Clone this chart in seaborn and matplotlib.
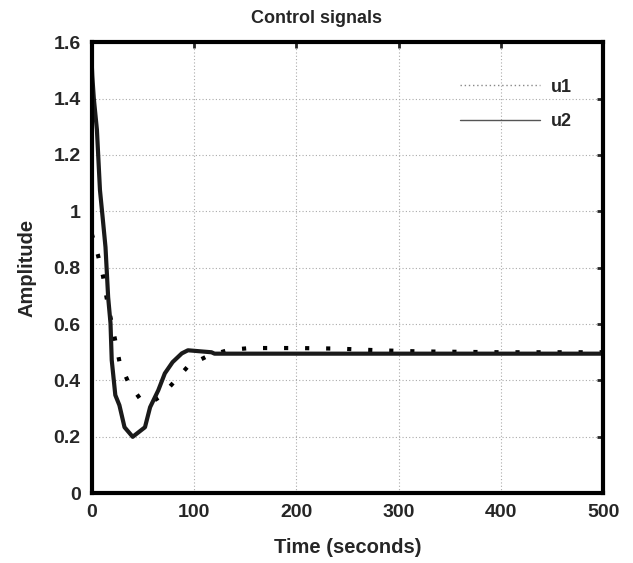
import pandas as pd
import matplotlib
matplotlib.use('Agg')
import matplotlib.pyplot as plt
import seaborn as sns
from matplotlib.lines import Line2D
from matplotlib.ticker import FuncFormatter

# control signal u1 (dotted)
t_u1 = [0, 6, 11, 14.4, 18.5, 23, 27, 35.5, 47, 58, 68, 80.5, 95, 113, 133.5,
        155, 176, 200, 240, 280, 320, 400, 500]
u1 = [0.92, 0.845, 0.77, 0.695, 0.62, 0.54, 0.468, 0.395, 0.336, 0.322, 0.345,
      0.395, 0.454, 0.486, 0.508, 0.515, 0.515, 0.515, 0.513, 0.507, 0.503,
      0.50, 0.50]

# control signal u2 (solid)
t_u2 = [0, 0.5, 2, 5, 8, 10.7, 13.4, 16, 18.3, 19.5, 23, 27, 32, 40, 52, 57,
        65, 71.4, 79, 88, 94, 117, 120, 500]
u2 = [1.52, 1.48, 1.40, 1.29, 1.075, 0.975, 0.873, 0.695, 0.603, 0.472, 0.348,
      0.312, 0.234, 0.20, 0.234, 0.305, 0.365, 0.425, 0.465, 0.496, 0.507,
      0.50, 0.495, 0.495]

x_ticks = [0, 100, 200, 300, 400, 500]
y_ticks = [0, 0.2, 0.4, 0.6, 0.8, 1.0, 1.2, 1.4, 1.6]

df1 = pd.DataFrame({'t': t_u1, 'u': u1})
df2 = pd.DataFrame({'t': t_u2, 'u': u2})

sns.set_style('white')
plt.rcParams['font.family'] = ['Liberation Sans', 'DejaVu Sans']
plt.rcParams['font.weight'] = 'bold'

fig = plt.figure(figsize=(6.33, 5.63), dpi=100)
ax = fig.add_axes([0.145, 0.124, 0.808, 0.801])

sns.lineplot(data=df1, x='t', y='u', ax=ax, color='black', linewidth=3,
             linestyle=(0, (1, 4.05)), sort=False, estimator=None)
sns.lineplot(data=df2, x='t', y='u', ax=ax, color='#1a1a1a', linewidth=3,
             sort=False, estimator=None)

ax.set_xlim(0, 500)
ax.set_ylim(0, 1.6)
ax.set_xticks(x_ticks)
ax.set_yticks(y_ticks)
ax.yaxis.set_major_formatter(FuncFormatter(lambda v, p: '%g' % round(v, 1)))
ax.grid(True, color='#aaaaaa', linestyle=(0, (1, 2)), linewidth=0.8)
ax.tick_params(direction='in', length=4, width=2, top=True, right=True,
               labelsize=14, pad=8)
for lab in ax.get_xticklabels() + ax.get_yticklabels():
    lab.set_fontweight('bold')
for s in ax.spines.values():
    s.set_linewidth(3)
    s.set_color('black')

# title is centred on the figure, not on the axes
ax.set_title('Control signals', fontsize=13, fontweight='bold', pad=14,
             x=0.439)
ax.set_xlabel('Time (seconds)', fontsize=14.5, fontweight='bold', labelpad=12)
ax.set_ylabel('Amplitude', fontsize=14.5, fontweight='bold', labelpad=12)

handles = [Line2D([], [], color='#888888', linewidth=1, linestyle=(0, (1, 2))),
           Line2D([], [], color='#555555', linewidth=1)]
ax.legend(handles, ['u1', 'u2'], loc='upper right', frameon=False,
          handlelength=4.4, handletextpad=0.6, labelspacing=0.95,
          prop={'weight': 'bold', 'size': 13}, bbox_to_anchor=(0.97, 0.955))

fig.savefig('out.png', dpi=100)
